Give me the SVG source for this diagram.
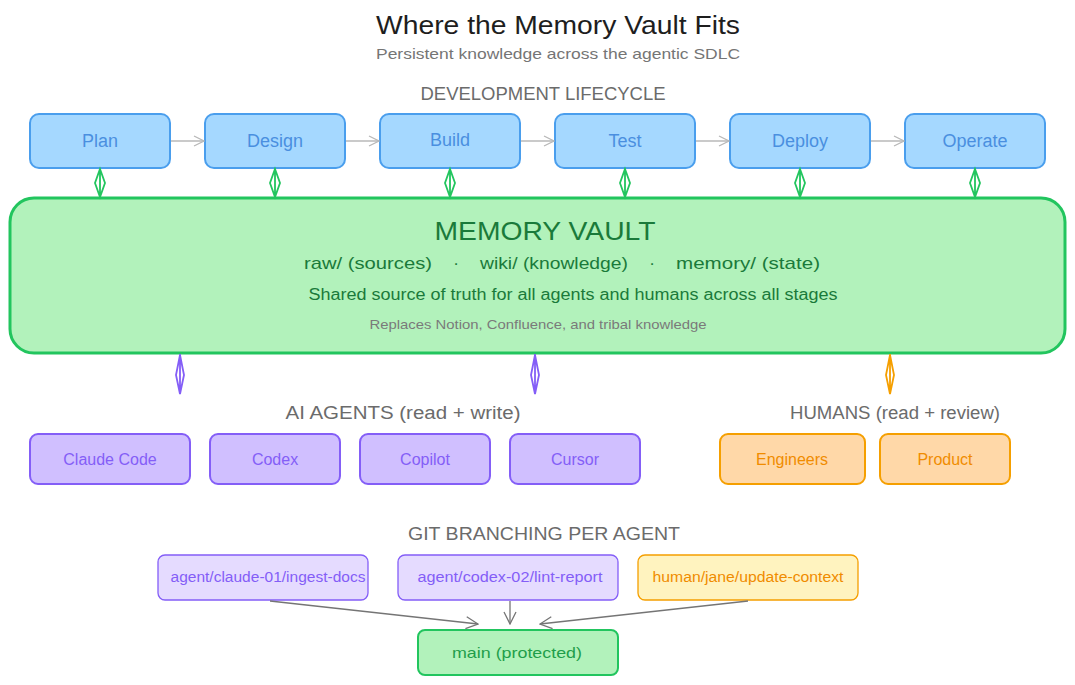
<svg xmlns="http://www.w3.org/2000/svg" width="1075" height="685" viewBox="0 0 1075 685">
<defs>
<marker id="ah" viewBox="0 0 12 12" refX="11" refY="6" markerWidth="12" markerHeight="12" markerUnits="userSpaceOnUse" orient="auto">
<path d="M1,1 L11,6 L1,11" fill="none" stroke="#b8b8b8" stroke-width="1.3"/>
</marker>
<marker id="ahg" viewBox="0 0 14 14" refX="13" refY="7" markerWidth="14" markerHeight="14" markerUnits="userSpaceOnUse" orient="auto">
<path d="M1,1 L13,7 L1,13" fill="none" stroke="#757575" stroke-width="1.3"/>
</marker>
</defs>
<style>
text{font-family:"Liberation Sans","DejaVu Sans",sans-serif;text-anchor:middle;dominant-baseline:central}
.stage rect{fill:#a5d8ff;stroke:#4a9eed;stroke-width:2}
.stage text{fill:#4a8fe0;font-size:18px}
.agent rect{fill:#d0bfff;stroke:#845ef7;stroke-width:2}
.agent text{fill:#845ef7;font-size:16px}
.human rect{fill:#ffd8a8;stroke:#f59f00;stroke-width:2}
.human text{fill:#f08c00;font-size:16px}
.br rect{stroke-width:1.3}
.br text{font-size:14px}
.hdr{fill:#6b6b6b;font-size:18px}
.vt{fill:#1a7a3a;font-size:17px}
.flow{stroke:#b8b8b8;stroke-width:1.5;fill:none}
.git{stroke:#757575;stroke-width:1.3;fill:none}
.dg{stroke:#22c55e;stroke-width:1.8;fill:none}
.dp{stroke:#845ef7;stroke-width:1.8;fill:none}
.do{stroke:#f59f00;stroke-width:1.8;fill:none}
</style>
<rect width="1075" height="685" fill="#ffffff"/>
<g id="title">
<text x="558" y="25" font-size="25" fill="#1e1e1e" textLength="364" lengthAdjust="spacingAndGlyphs">Where the Memory Vault Fits</text>
<text x="558" y="53" font-size="15" fill="#757575" textLength="364" lengthAdjust="spacingAndGlyphs">Persistent knowledge across the agentic SDLC</text>
</g>
<text class="hdr" x="543" y="94" textLength="245" lengthAdjust="spacingAndGlyphs">DEVELOPMENT LIFECYCLE</text>
<g id="plan" class="stage"><rect x="30" y="114" width="140" height="54" rx="9"/><text x="100" y="141">Plan</text></g>
<g id="design" class="stage"><rect x="205" y="114" width="140" height="54" rx="9"/><text x="275" y="141">Design</text></g>
<g id="build" class="stage"><rect x="380" y="114" width="140" height="54" rx="9"/><text x="450" y="140">Build</text></g>
<g id="test" class="stage"><rect x="555" y="114" width="140" height="54" rx="9"/><text x="625" y="141">Test</text></g>
<g id="deploy" class="stage"><rect x="730" y="114" width="140" height="54" rx="9"/><text x="800" y="141">Deploy</text></g>
<g id="operate" class="stage"><rect x="905" y="114" width="140" height="54" rx="9"/><text x="975" y="141">Operate</text></g>
<g id="vault">
<rect x="10" y="198" width="1055" height="155" rx="24" fill="#b2f2bb" stroke="#22c55e" stroke-width="3"/>
<text x="545" y="231" font-size="26" fill="#1a7a3a" textLength="221" lengthAdjust="spacingAndGlyphs">MEMORY VAULT</text>
<text class="vt" x="368" y="263" textLength="128" lengthAdjust="spacingAndGlyphs">raw/ (sources)</text>
<text class="vt" x="456" y="263">·</text>
<text class="vt" x="554" y="263" textLength="148" lengthAdjust="spacingAndGlyphs">wiki/ (knowledge)</text>
<text class="vt" x="652" y="263">·</text>
<text class="vt" x="748" y="263" textLength="144" lengthAdjust="spacingAndGlyphs">memory/ (state)</text>
<text x="573" y="294" font-size="16" fill="#1a7a3a" textLength="529" lengthAdjust="spacingAndGlyphs">Shared source of truth for all agents and humans across all stages</text>
<text x="538" y="324" font-size="13" fill="#7a7a7a" textLength="337" lengthAdjust="spacingAndGlyphs">Replaces Notion, Confluence, and tribal knowledge</text>
</g>
<text class="hdr" x="403" y="413" textLength="235" lengthAdjust="spacingAndGlyphs">AI AGENTS (read + write)</text>
<text class="hdr" x="895" y="413" textLength="210" lengthAdjust="spacingAndGlyphs">HUMANS (read + review)</text>
<g id="claude" class="agent"><rect x="30" y="434" width="160" height="50" rx="8"/><text x="110" y="459">Claude Code</text></g>
<g id="codex" class="agent"><rect x="210" y="434" width="130" height="50" rx="8"/><text x="275" y="459">Codex</text></g>
<g id="copilot" class="agent"><rect x="360" y="434" width="130" height="50" rx="8"/><text x="425" y="459">Copilot</text></g>
<g id="cursor" class="agent"><rect x="510" y="434" width="130" height="50" rx="8"/><text x="575" y="459">Cursor</text></g>
<g id="engineers" class="human"><rect x="720" y="434" width="145" height="50" rx="8"/><text x="792" y="459">Engineers</text></g>
<g id="product" class="human"><rect x="880" y="434" width="130" height="50" rx="8"/><text x="945" y="459">Product</text></g>
<text class="hdr" x="544" y="534" textLength="272" lengthAdjust="spacingAndGlyphs">GIT BRANCHING PER AGENT</text>
<g id="b-claude" class="br"><rect x="158" y="555" width="210" height="45" rx="7" fill="#e5dbff" stroke="#845ef7"/><text x="268" y="577" fill="#845ef7" textLength="195" lengthAdjust="spacingAndGlyphs">agent/claude-01/ingest-docs</text></g>
<g id="b-codex" class="br"><rect x="398" y="555" width="220" height="45" rx="7" fill="#e5dbff" stroke="#845ef7"/><text x="510" y="577" fill="#845ef7" textLength="185" lengthAdjust="spacingAndGlyphs">agent/codex-02/lint-report</text></g>
<g id="b-human" class="br"><rect x="638" y="555" width="220" height="45" rx="7" fill="#fff3bf" stroke="#f59f00"/><text x="748" y="577" fill="#f08c00" textLength="191" lengthAdjust="spacingAndGlyphs">human/jane/update-context</text></g>
<g id="main"><rect x="418" y="630" width="200" height="45" rx="7" fill="#b2f2bb" stroke="#22c55e" stroke-width="2"/><text x="517" y="652" font-size="15" fill="#1f9e4a" textLength="130" lengthAdjust="spacingAndGlyphs">main (protected)</text></g>
<g id="connectors">
<line class="flow" x1="171" y1="141" x2="204" y2="141" marker-end="url(#ah)"/>
<line class="flow" x1="346" y1="141" x2="379" y2="141" marker-end="url(#ah)"/>
<line class="flow" x1="521" y1="141" x2="554" y2="141" marker-end="url(#ah)"/>
<line class="flow" x1="696" y1="141" x2="729" y2="141" marker-end="url(#ah)"/>
<line class="flow" x1="871" y1="141" x2="904" y2="141" marker-end="url(#ah)"/>
<path class="dg" d="M100,168 V198 M100,169 L105,183 L100,197 L95,183 Z"/>
<path class="dg" d="M275,168 V198 M275,169 L280,183 L275,197 L270,183 Z"/>
<path class="dg" d="M450,168 V198 M450,169 L455,183 L450,197 L445,183 Z"/>
<path class="dg" d="M625,168 V198 M625,169 L630,183 L625,197 L620,183 Z"/>
<path class="dg" d="M800,168 V198 M800,169 L805,183 L800,197 L795,183 Z"/>
<path class="dg" d="M975,168 V198 M975,169 L980,183 L975,197 L970,183 Z"/>
<path class="dp" d="M180,354 V394 M180,355 L184,375 L180,394 L176,375 Z"/>
<path class="dp" d="M535,354 V394 M535,355 L539,375 L535,394 L531,375 Z"/>
<path class="do" d="M890,354 V394 M890,355 L894,375 L890,394 L886,375 Z"/>
<line class="git" x1="270" y1="601" x2="478" y2="624" marker-end="url(#ahg)"/>
<line class="git" x1="510" y1="601" x2="510" y2="624" marker-end="url(#ahg)"/>
<line class="git" x1="748" y1="601" x2="540" y2="624" marker-end="url(#ahg)"/>
</g>
</svg>
